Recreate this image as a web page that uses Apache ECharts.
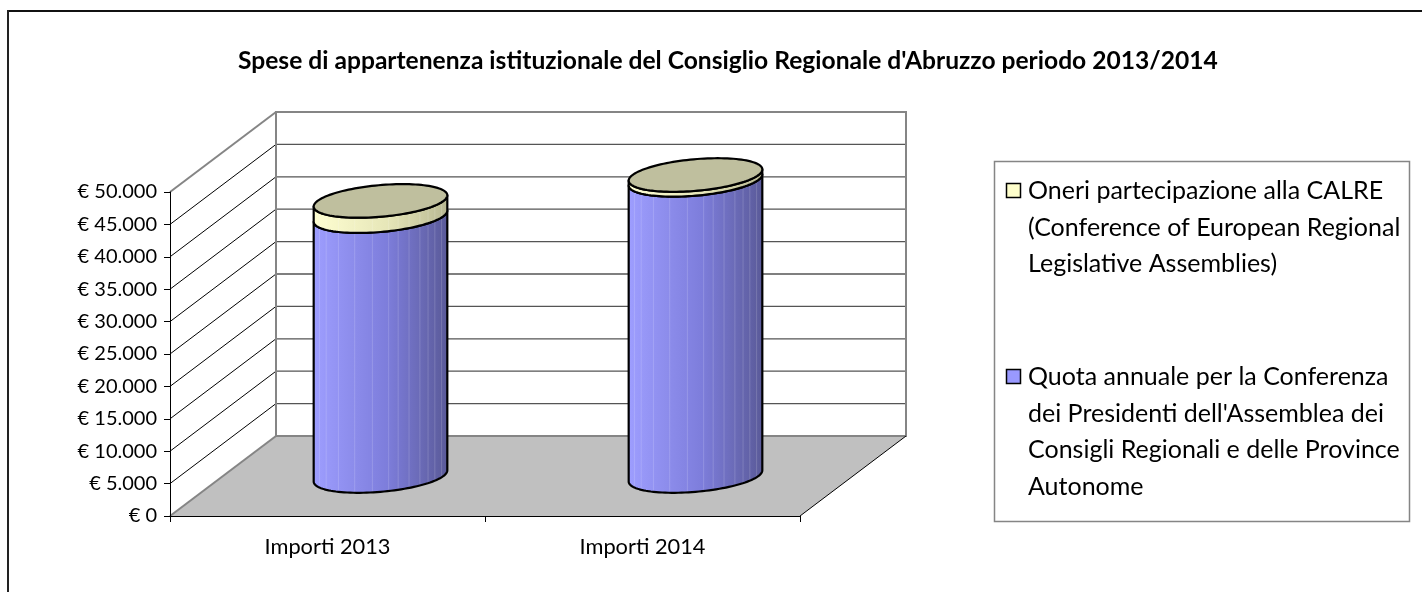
<!DOCTYPE html>
<html>
<head>
<meta charset="utf-8">
<title>Spese di appartenenza istituzionale</title>
<script src="https://cdn.jsdelivr.net/npm/echarts@6/dist/echarts.min.js"></script>
<style>
  html, body { margin: 0; padding: 0; background: #fff; }
  #chart { width: 1422px; height: 592px; }
</style>
</head>
<body>
<div id="chart"></div>
<script>
// dati
const categories = ['Importi 2013', 'Importi 2014']
const quotaValues = [40100, 45700]
const calreValues = [2350, 750]
const seriesNames = [
  "Quota annuale per la Conferenza dei Presidenti dell'Assemblea dei Consigli Regionali e delle Province Autonome",
  'Oneri partecipazione alla CALRE (Conference of European Regional Legislative Assemblies)'
]
// righe della legenda come nell'originale (prima CALRE, poi Quota)
const legendLines = [
  ['Oneri partecipazione alla CALRE', '(Conference of European Regional', 'Legislative Assemblies)'],
  ['Quota annuale per la Conferenza', "dei Presidenti dell'Assemblea dei", 'Consigli Regionali e delle Province', 'Autonome']
]
const yMax = 50000
const yStep = 5000

const FONT = 'Lato, "Noto Sans", sans-serif'
// proiezione obliqua della profondita' 3D
const DX = 106
const DY = -80
const RAD_X = 0.2
const RAD_D = 0.21

const hex = c => [1, 3, 5].map(i => parseInt(c.slice(i, i + 2), 16))
const toHex = a => '#' + a.map(v => Math.max(0, Math.min(255, Math.round(v))).toString(16).padStart(2, '0')).join('')
const mix = (c1, c2, f) => toHex(hex(c1).map((v, i) => v + (hex(c2)[i] - v) * f))

const stripes = [0.05, 0.1, 0.19, 0.31, 0.44, 0.56, 0.63, 0.71, 0.79, 0.85, 0.9, 0.95]

const makeGradient = (c0, c1, c2) => {
  const base = p => (p < 0.55 ? mix(c0, c1, p / 0.55) : mix(c1, c2, (p - 0.55) / 0.45))
  const stops = [{ offset: 0, color: base(0) }]
  stripes.forEach(p => {
    stops.push({ offset: p - 0.007, color: base(p - 0.007) })
    stops.push({ offset: p, color: mix(base(p), '#ffffff', 0.16) })
    stops.push({ offset: p + 0.007, color: base(p + 0.007) })
  })
  stops.push({ offset: 1, color: base(1) })
  return new echarts.graphic.LinearGradient(0, 0, 1, 0, stops)
}

const blueFill = makeGradient('#9e9eff', '#7d7ddb', '#5a5a98')
const yellowFill = makeGradient('#ffffd2', '#e6e6b8', '#b8b892')

const fmtEuro = v => '€ ' + String(v).replace(/\B(?=(\d{3})+(?!\d))/g, '.')

// pareti, pavimento e griglia 3D
const renderWalls = (params, api) => {
  const band = api.size([1, 0])[0]
  const c0 = api.coord([0, 0])
  const x0 = c0[0] - band / 2
  const x1 = x0 + band * categories.length
  const y0 = c0[1]
  const yT = api.coord([0, yMax])[1]
  const children = [
    { type: 'polygon', shape: { points: [[x0, y0], [x1, y0], [x1 + DX, y0 + DY], [x0 + DX, y0 + DY]] }, style: { fill: '#c0c0c0', stroke: null } },
    { type: 'polygon', shape: { points: [[x0, y0], [x0, yT], [x0 + DX, yT + DY], [x0 + DX, y0 + DY]] }, style: { fill: '#ffffff', stroke: null } },
    { type: 'rect', shape: { x: x0 + DX, y: yT + DY, width: x1 - x0, height: y0 - yT }, style: { fill: '#ffffff', stroke: null } }
  ]
  for (let v = yStep; v < yMax; v += yStep) {
    const y = api.coord([0, v])[1]
    children.push({ type: 'line', shape: { x1: x0, y1: y, x2: x0 + DX, y2: y + DY }, style: { stroke: '#000', lineWidth: 1 } })
    children.push({ type: 'line', shape: { x1: x0 + DX, y1: y + DY, x2: x1 + DX, y2: y + DY }, style: { stroke: '#555', lineWidth: 1.3 } })
  }
  const gray = { stroke: '#858585', lineWidth: 2, fill: null }
  children.push({ type: 'rect', shape: { x: x0 + DX, y: yT + DY, width: x1 - x0, height: y0 - yT }, style: gray })
  children.push({ type: 'line', shape: { x1: x0, y1: yT, x2: x0 + DX, y2: yT + DY }, style: gray })
  children.push({ type: 'line', shape: { x1: x0, y1: y0, x2: x0 + DX, y2: y0 + DY }, style: gray })
  children.push({ type: 'line', shape: { x1: x1, y1: y0, x2: x1 + DX, y2: y0 + DY }, style: { stroke: '#000', lineWidth: 1 } })
  return { type: 'group', children }
}

// cilindro: corpo tra lo e hi, con eventuale coperchio
const cylinder = (fill, withTop) => (params, api) => {
  const idx = api.value(0)
  const lo = api.value(1)
  const hi = api.value(2)
  const band = api.size([1, 0])[0]
  const pLo = api.coord([idx, lo])
  const pHi = api.coord([idx, hi])
  const cx = pLo[0] + DX * 0.5
  const yLo = pLo[1] + DY * 0.5
  const yHi = pHi[1] + DY * 0.5
  const a = band * RAD_X
  const bx = DX * RAD_D
  const by = DY * RAD_D
  const pt = (t, cy) => [cx + a * Math.cos(t) + bx * Math.sin(t), cy + by * Math.sin(t)]
  const t0 = Math.atan2(bx, a)
  const N = 60
  const front = cy => {
    const arr = []
    for (let i = 0; i <= N; i++) arr.push(pt(t0 + Math.PI + Math.PI * i / N, cy))
    return arr
  }
  const body = front(yLo).concat(front(yHi).reverse())
  const children = [
    { type: 'polygon', shape: { points: body }, style: { fill, stroke: '#000', lineWidth: 2.2, lineJoin: 'round' } }
  ]
  if (withTop) {
    const ell = []
    for (let i = 0; i < 2 * N; i++) ell.push(pt(Math.PI * i / N, yHi))
    children.push({ type: 'polygon', shape: { points: ell }, style: { fill: '#bfbf9e', stroke: '#000', lineWidth: 2.2 } })
  }
  return { type: 'group', children }
}

const legendGraphic = () => {
  const children = [
    { type: 'rect', shape: { x: 994.5, y: 161.5, width: 415, height: 360 }, style: { fill: '#fff', stroke: '#858585', lineWidth: 1.5 } }
  ]
  const colors = ['#ffffcc', '#9999ff']
  const tops = [191, 377]
  legendLines.forEach((lines, k) => {
    children.push({ type: 'rect', shape: { x: 1006.5, y: tops[k] - 7.5, width: 14, height: 14 }, style: { fill: colors[k], stroke: '#000', lineWidth: 1.5 } })
    lines.forEach((ln, j) => {
      children.push({ type: 'text', x: 1028, y: tops[k] + j * 36.5, style: { text: ln, fill: '#000', font: '25px ' + FONT, textVerticalAlign: 'middle' } })
    })
  })
  return children
}

const chart = echarts.init(document.getElementById('chart'))
chart.setOption({
  animation: false,
  title: {
    text: "Spese di appartenenza istituzionale del Consiglio Regionale d'Abruzzo periodo 2013/2014",
    left: 233,
    top: 44,
    textStyle: { fontFamily: FONT, fontSize: 24.6, fontWeight: 'bold', color: '#000' }
  },
  grid: { left: 170, right: 622, top: 192, bottom: 76 },
  xAxis: {
    type: 'category',
    data: categories,
    z: 10,
    axisLine: { lineStyle: { color: '#000', width: 1 } },
    axisTick: { show: true, length: 6, lineStyle: { color: '#000' } },
    axisLabel: { margin: 20, color: '#000', fontFamily: FONT, fontSize: 21.8 }
  },
  yAxis: {
    type: 'value',
    min: 0,
    max: yMax,
    interval: yStep,
    z: 10,
    splitLine: { show: false },
    axisLine: { show: true, lineStyle: { color: '#000', width: 1 } },
    axisTick: { show: true, length: 6, lineStyle: { color: '#000' } },
    axisLabel: { margin: 13, color: '#000', fontFamily: FONT, fontSize: 20, formatter: fmtEuro }
  },
  series: [
    {
      type: 'custom',
      name: 'pareti',
      z: 1,
      silent: true,
      renderItem: renderWalls,
      data: [[0, 0]],
      encode: { x: 0, y: 1 }
    },
    {
      type: 'custom',
      name: seriesNames[0],
      z: 2,
      renderItem: cylinder(blueFill, false),
      data: categories.map((c, i) => [i, 0, quotaValues[i]]),
      encode: { x: 0, y: [1, 2] }
    },
    {
      type: 'custom',
      name: seriesNames[1],
      z: 3,
      renderItem: cylinder(yellowFill, true),
      data: categories.map((c, i) => [i, quotaValues[i], quotaValues[i] + calreValues[i]]),
      encode: { x: 0, y: [1, 2] }
    }
  ],
  graphic: [
    { type: 'line', silent: true, shape: { x1: 7, y1: 11, x2: 1422, y2: 11 }, style: { stroke: '#111', lineWidth: 2 } },
    { type: 'line', silent: true, shape: { x1: 8, y1: 10, x2: 8, y2: 592 }, style: { stroke: '#222', lineWidth: 2 } },
    ...legendGraphic()
  ]
})
</script>
</body>
</html>
